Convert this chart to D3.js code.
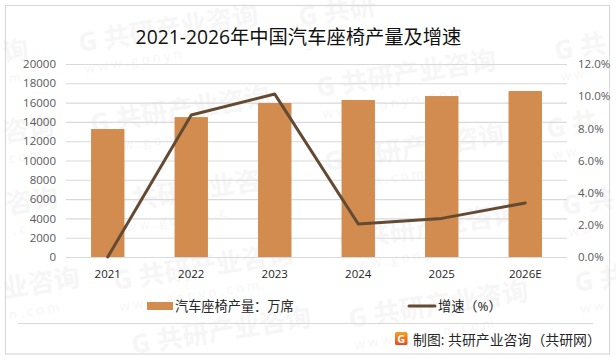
<!DOCTYPE html>
<html>
<head>
<meta charset="utf-8">
<script src="https://cdn.jsdelivr.net/npm/d3@7"></script>
<style>
	html, body { margin: 0; padding: 0; background: #fff; }
	svg { display: block; }
	text { font-family: "Open Sans", "Noto Sans CJK SC", sans-serif; }
</style>
</head>
<body>
<script>
const categories = ["2021", "2022", "2023", "2024", "2025", "2026E"];
const output = [13260, 14500, 15960, 16270, 16680, 17200];
const growth = [0, 8.83, 10.13, 2.05, 2.4, 3.36];

const outputTicks = [0, 2000, 4000, 6000, 8000, 10000, 12000, 14000, 16000, 18000, 20000];
const growthTicks = [0, 2, 4, 6, 8, 10, 12];

// watermarks: x, y, stamp text, url text. the ones at the picture's edge only show a part
const stamps = [
	[4, 62, "询", "m"],
	[80, 52, "G 共研产业咨询", "w w w . g o n y n"],
	[300, 26, "G 共研", "g o n y"],
	[556, 60, "G 共", "w w"],
	[4, 142, "咨询", "c o m"],
	[92, 133, "G 共研产业咨询", "w w w . g o n y n . c"],
	[318, 97, "G 共研产业咨询", "w w w . g o n y n . c o m"],
	[548, 138, "G 共", "w w"],
	[8, 214, "咨询", ". c"],
	[108, 213, "G 共研产业咨询", "w w w . g o n y n . c"],
	[326, 171, "G 共研产业咨询", "g o n y n . c o m"],
	[564, 215, "G 共", "w w"],
	[4, 298, "业咨询", "n . c o m"],
	[115, 290, "G 共研产业咨询", "w w w . g o n y n . c o m"],
	[340, 250, "G 共研产业咨询", "w w w . g o n y n . c"],
	[576, 292, "G 共", "w w"],
	[133, 354, "G 共研产业咨询", ""],
	[350, 328, "G 共研产业咨询", "w w w . g o n y n . c o m"]
];

const width = 616;
const height = 360;
const margin = { top: 64, right: 49, bottom: 103, left: 66 };

const svg = d3.select("body").append("svg")
	.attr("width", width)
	.attr("height", height);

const grad = svg.append("defs").append("linearGradient")
	.attr("id", "logoFill")
	.attr("x1", 0).attr("x2", 0).attr("y1", 0).attr("y2", 1);
grad.append("stop").attr("offset", 0).attr("stop-color", "#f4a21f");
grad.append("stop").attr("offset", 1).attr("stop-color", "#e8491d");

// watermarks sit under everything
const mark = svg.append("g").selectAll("g")
	.data(stamps)
	.join("g")
	.attr("transform", d => `translate(${d[0]},${d[1]}) rotate(-9)`)
	.attr("fill", "#f6f6f6");
mark.append("text")
	.attr("font-size", 26)
	.attr("font-weight", 700)
	.text(d => d[2]);
mark.append("text")
	.attr("x", 2)
	.attr("y", 22)
	.attr("font-size", 13)
	.text(d => d[3]);

svg.append("rect")
	.attr("x", 5.5).attr("y", 5.5)
	.attr("width", 604).attr("height", 348.5)
	.attr("fill", "none")
	.attr("stroke", "#d9d9d9")
	.attr("stroke-width", 1.2);

const x = d3.scaleBand()
	.domain(categories)
	.range([margin.left, width - margin.right])
	.paddingInner(0.6)
	.paddingOuter(0.3);

const yLeft = d3.scaleLinear()
	.domain([0, 20000])
	.range([height - margin.bottom, margin.top]);

const yRight = d3.scaleLinear()
	.domain([0, 12])
	.range([height - margin.bottom, margin.top]);

// gridlines
svg.append("g")
	.attr("transform", `translate(${margin.left},0)`)
	.call(d3.axisRight(yLeft).tickValues(outputTicks).tickSize(width - margin.left - margin.right).tickFormat(""))
	.call(g => g.select(".domain").remove())
	.call(g => g.selectAll("line").attr("stroke", "#d9d9d9").attr("stroke-width", 1.1));

svg.append("g")
	.selectAll("rect")
	.data(output)
	.join("rect")
	.attr("x", (d, i) => x(categories[i]))
	.attr("y", d => yLeft(d))
	.attr("width", x.bandwidth())
	.attr("height", d => yLeft(0) - yLeft(d))
	.attr("fill", "#d28c4f");

const line = d3.line()
	.x((d, i) => x(categories[i]) + x.bandwidth() / 2)
	.y(d => yRight(d));

svg.append("path")
	.datum(growth)
	.attr("d", line)
	.attr("fill", "none")
	.attr("stroke", "#634a33")
	.attr("stroke-width", 3)
	.attr("stroke-linecap", "round")
	.attr("stroke-linejoin", "round");

// axes
svg.append("g")
	.attr("transform", `translate(${margin.left},0)`)
	.call(d3.axisLeft(yLeft).tickValues(outputTicks).tickSize(0).tickPadding(10).tickFormat(d3.format("d")))
	.call(g => g.select(".domain").remove())
	.call(g => g.selectAll("text").attr("font-size", 11.5).attr("fill", "#595959"));

svg.append("g")
	.attr("transform", `translate(${width - margin.right},0)`)
	.call(d3.axisRight(yRight).tickValues(growthTicks).tickSize(0).tickPadding(11).tickFormat(d => d.toFixed(1) + "%"))
	.call(g => g.select(".domain").remove())
	.call(g => g.selectAll("text").attr("font-size", 11.5).attr("fill", "#595959"));

svg.append("g")
	.attr("transform", `translate(0,${height - margin.bottom})`)
	.call(d3.axisBottom(x).tickSize(0).tickPadding(13))
	.call(g => g.select(".domain").remove())
	.call(g => g.selectAll("text").attr("font-size", 11.5).attr("fill", "#262626"));

svg.append("text")
	.attr("x", 298.5)
	.attr("y", 44)
	.attr("text-anchor", "middle")
	.attr("font-size", 19.3)
	.attr("fill", "#111")
	.text("2021-2026年中国汽车座椅产量及增速");

// legend
svg.append("rect")
	.attr("x", 147).attr("y", 302)
	.attr("width", 26).attr("height", 8)
	.attr("fill", "#d28c4f");
svg.append("text")
	.attr("x", 175).attr("y", 311)
	.attr("font-size", 13.2)
	.attr("fill", "#262626")
	.text("汽车座椅产量：万席");
svg.append("line")
	.attr("x1", 409).attr("x2", 435)
	.attr("y1", 306).attr("y2", 306)
	.attr("stroke", "#634a33")
	.attr("stroke-width", 3)
	.attr("stroke-linecap", "round");
svg.append("text")
	.attr("x", 438).attr("y", 311)
	.attr("font-size", 13.2)
	.attr("fill", "#262626")
	.text("增速（%）");

svg.append("line")
	.attr("x1", 18).attr("x2", 593)
	.attr("y1", 323.5).attr("y2", 323.5)
	.attr("stroke", "#d9d9d9")
	.attr("stroke-width", 1.1);

// source line with logo
svg.append("rect")
	.attr("x", 395).attr("y", 332)
	.attr("width", 12.5).attr("height", 13)
	.attr("rx", 1.5)
	.attr("fill", "url(#logoFill)");
svg.append("text")
	.attr("x", 401.2).attr("y", 343)
	.attr("text-anchor", "middle")
	.attr("font-size", 11)
	.attr("font-weight", 700)
	.attr("fill", "#fff")
	.text("G");
svg.append("text")
	.attr("x", 413).attr("y", 345)
	.attr("font-size", 13.9)
	.attr("fill", "#262626")
	.text("制图: 共研产业咨询（共研网）");
</script>
</body>
</html>
